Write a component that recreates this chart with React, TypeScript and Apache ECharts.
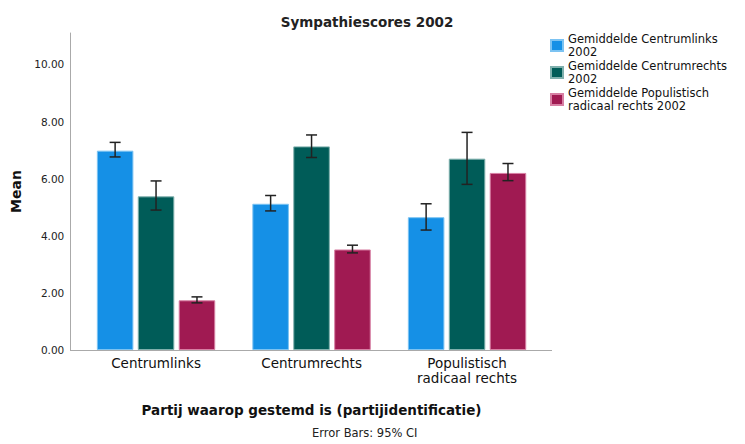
import React, { useEffect, useRef } from "react";
import * as echarts from "echarts";

const categories = ["Centrumlinks", "Centrumrechts", "Populistisch\nradicaal rechts"];
const seriesNames = [
  "Gemiddelde Centrumlinks\n2002",
  "Gemiddelde Centrumrechts\n2002",
  "Gemiddelde Populistisch\nradicaal rechts 2002",
];
const meanLinks = [6.98, 5.12, 4.65];
const meanRechts = [5.38, 7.13, 6.7];
const meanPop = [1.74, 3.52, 6.2];
const lowLinks = [6.76, 4.87, 4.2];
const highLinks = [7.27, 5.41, 5.12];
const lowRechts = [4.9, 6.74, 5.8];
const highRechts = [5.92, 7.53, 7.62];
const lowPop = [1.65, 3.4, 5.93];
const highPop = [1.86, 3.67, 6.53];
const yTicks = [0, 2, 4, 6, 8, 10];

const colors = ["#1590e6", "#005c58", "#a01a52"];
const borders = ["#7cc3f2", "#7fb0ad", "#d77fa3"];
const FONT = "DejaVu Sans";
const BAR_RATIO = 0.235;
const GAP_RATIO = 0.12;

export default function App() {
  const ref = useRef<HTMLDivElement>(null);
  useEffect(() => {
    if (!ref.current) return;
    const chart = echarts.init(ref.current, null, { renderer: "svg" });
    const means = [meanLinks, meanRechts, meanPop];
    const lows = [lowLinks, lowRechts, lowPop];
    const highs = [highLinks, highRechts, highPop];

    const barSeries = means.map((m, i) => ({
      type: "bar",
      name: seriesNames[i],
      data: m,
      barWidth: BAR_RATIO * 100 + "%",
      barGap: GAP_RATIO * 100 + "%",
      itemStyle: { color: colors[i], borderColor: borders[i], borderWidth: 1 },
    }));

    const errSeries = lows.map((lo, i) => ({
      type: "custom",
      name: "err" + i,
      z: 10,
      data: lo.map((l, j) => [j, l, highs[i][j]]),
      encode: { x: 0, y: [1, 2] },
      renderItem: (params: any, api: any) => {
        const c = api.value(0);
        const band = api.size([1, 0])[0];
        const bw = BAR_RATIO * band;
        const gap = GAP_RATIO * bw;
        const off = (i - 1) * (bw + gap);
        const pLo = api.coord([c, api.value(1)]);
        const pHi = api.coord([c, api.value(2)]);
        const x = pLo[0] + off;
        const cap = 5.5;
        const style = { stroke: "#222", lineWidth: 1.5 };
        return {
          type: "group",
          children: [
            { type: "line", shape: { x1: x, y1: pLo[1], x2: x, y2: pHi[1] }, style },
            { type: "line", shape: { x1: x - cap, y1: pLo[1], x2: x + cap, y2: pLo[1] }, style },
            { type: "line", shape: { x1: x - cap, y1: pHi[1], x2: x + cap, y2: pHi[1] }, style },
          ],
        };
      },
    }));

    chart.setOption({
      animation: false,
      title: {
        text: "Sympathiescores 2002",
        left: 362,
        textAlign: "center",
        top: 10,
        textStyle: { fontFamily: FONT, fontSize: 13.5, fontWeight: "bold", color: "#222" },
      },
      legend: {
        data: seriesNames,
        orient: "vertical",
        left: 545,
        top: 28,
        itemWidth: 12,
        itemHeight: 11,
        itemGap: 2,
        icon: "rect",
        textStyle: { fontFamily: FONT, fontSize: 11.5, lineHeight: 12.5, color: "#111" },
      },
      grid: { left: 78.3, top: 33, width: 466.5, bottom: 94 },
      xAxis: {
        type: "category",
        data: categories,
        name: "Partij waarop gestemd is (partijidentificatie)",
        nameLocation: "middle",
        nameGap: 53,
        nameTextStyle: { fontFamily: FONT, fontSize: 13.5, fontWeight: "bold", color: "#111" },
        axisLine: { show: false },
        axisTick: { show: false },
        axisLabel: { fontFamily: FONT, fontSize: 13.5, color: "#111", margin: 5, lineHeight: 15 },
      },
      yAxis: {
        type: "value",
        min: 0,
        max: 11.1,
        interval: 2,
        offset: 8,
        name: "Mean",
        nameLocation: "middle",
        nameGap: 45,
        nameTextStyle: { fontFamily: FONT, fontSize: 14, fontWeight: "bold", color: "#111" },
        axisLine: { show: true, lineStyle: { color: "#aaa", width: 1 } },
        axisTick: { show: false },
        splitLine: { show: false },
        axisLabel: {
          fontFamily: FONT,
          fontSize: 10.5,
          color: "#222",
          margin: 6,
          showMaxLabel: false,
          formatter: (v: number) => (yTicks.includes(v) ? v.toFixed(2) : ""),
        },
      },
      graphic: [
        {
          type: "line",
          shape: { x1: 70, y1: 350.5, x2: 552, y2: 350.5 },
          style: { stroke: "#aaa", lineWidth: 1 },
        },
        {
          type: "text",
          left: 312,
          top: 427,
          style: { text: "Error Bars: 95% CI", fontFamily: FONT, fontSize: 11.5, fill: "#222" },
        },
      ],
      series: [...barSeries, ...errSeries],
    });
    return () => chart.dispose();
  }, []);
  return (
    <div
      ref={ref}
      style={{ position: "absolute", left: 0, top: 0, width: 745, height: 444 }}
    />
  );
}
